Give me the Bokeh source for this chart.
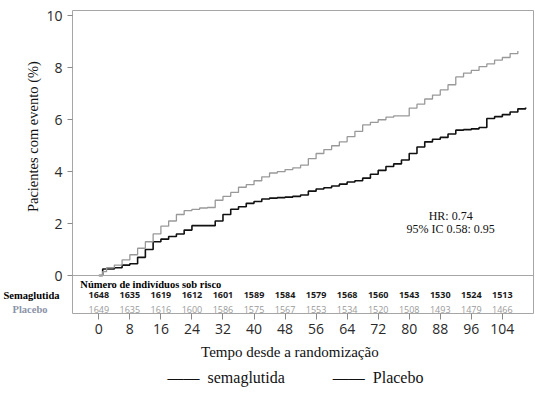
from bokeh.plotting import figure
from bokeh.models import (Range1d, FixedTicker, Span, LinearAxis, ColumnDataSource, Title)
from bokeh.core.properties import value
from bokeh.embed import file_html
from bokeh.resources import INLINE

# ---- data ----
weeks_placebo = [0, 1, 2, 4, 6, 8, 10, 12, 14, 16, 18, 20, 22, 24, 26, 28, 30, 32, 34, 36,
                 38, 40, 42, 44, 46, 48, 50, 52, 54, 56, 58, 60, 62, 64, 66, 68, 70, 72,
                 74, 76, 78, 80, 82, 84, 86, 88, 90, 92, 94, 96, 98, 100, 102, 104, 106, 108]
pct_placebo = [0, 0.15, 0.3, 0.4, 0.6, 0.8, 1.05, 1.3, 1.6, 1.9, 2.1, 2.35, 2.5, 2.55, 2.6,
               2.62, 2.9, 3.05, 3.2, 3.4, 3.5, 3.65, 3.8, 3.95, 4.0, 4.08, 4.15, 4.25, 4.5,
               4.7, 4.85, 5.0, 5.15, 5.35, 5.55, 5.8, 5.9, 6.0, 6.1, 6.15, 6.15, 6.45, 6.6,
               6.8, 6.95, 7.15, 7.35, 7.65, 7.8, 7.9, 8.05, 8.15, 8.3, 8.4, 8.55, 8.65]

weeks_sema = [0, 1, 4, 6, 8, 10, 12, 14, 16, 18, 20, 22, 24, 26, 28, 30, 32, 34, 36, 38,
              40, 42, 44, 46, 48, 50, 52, 54, 56, 58, 60, 62, 64, 66, 68, 70, 72, 74, 76,
              78, 80, 82, 84, 86, 88, 90, 92, 94, 96, 98, 100, 102, 104, 106, 108, 110]
pct_sema = [0, 0.25, 0.3, 0.4, 0.45, 0.7, 1.0, 1.3, 1.4, 1.5, 1.6, 1.75, 1.92, 1.92, 1.92,
            2.1, 2.35, 2.55, 2.65, 2.78, 2.85, 2.95, 2.98, 3.0, 3.02, 3.05, 3.1, 3.25, 3.33,
            3.38, 3.45, 3.52, 3.6, 3.65, 3.75, 3.9, 4.05, 4.2, 4.3, 4.45, 4.7, 4.95, 5.15,
            5.25, 5.32, 5.45, 5.6, 5.62, 5.65, 5.7, 6.05, 6.12, 6.2, 6.3, 6.42, 6.47]

risk_weeks = [0, 8, 16, 24, 32, 40, 48, 56, 64, 72, 80, 88, 96, 104]
risk_sema = [1648, 1635, 1619, 1612, 1601, 1589, 1584, 1579, 1568, 1560, 1543, 1530, 1524, 1513]
risk_placebo = [1649, 1635, 1616, 1600, 1586, 1575, 1567, 1553, 1534, 1520, 1508, 1493, 1479, 1466]
y_ticks = [0, 2, 4, 6, 8, 10]
series_names = ["semaglutida", "Placebo"]

SERIF = "Liberation Serif"
SANS = "Open Sans"
NB = "\u00a0"

ROW_HEADER_Y = -0.347
ROW_SEMA_Y = -0.77
ROW_PLAC_Y = -1.31

p = figure(width=541, height=395, output_backend="svg", toolbar_location=None,
           x_range=Range1d(-6.78, 112.03), y_range=Range1d(-1.464, 10.21),
           min_border_left=60, min_border_right=8, min_border_top=10, min_border_bottom=82)
p.background_fill_color = "white"
p.border_fill_color = "white"
p.outline_line_color = "#a6a6a6"
p.outline_line_width = 1
p.grid.visible = False

# main axes
p.xaxis.ticker = FixedTicker(ticks=risk_weeks)
p.yaxis.ticker = FixedTicker(ticks=y_ticks)
for ax in (p.xaxis[0], p.yaxis[0]):
    ax.axis_line_color = None
    ax.major_tick_line_color = "#8a8a8a"
    ax.major_tick_in = 0
    ax.major_tick_out = 6
    ax.minor_tick_line_color = None
    ax.major_label_text_font = SANS
    ax.major_label_text_font_size = "14px"
    ax.major_label_text_color = "#2a2a2a"
    ax.axis_label_text_font = SERIF
    ax.axis_label_text_font_style = "normal"
    ax.axis_label_text_color = "#111111"
p.xaxis.major_label_standoff = 4
p.xaxis.axis_label = "Tempo desde a randomização" + NB * 7
p.xaxis.axis_label_text_font_size = "15px"
p.xaxis.axis_label_standoff = 7
p.yaxis.major_tick_out = 5
p.yaxis.major_label_standoff = 5
p.yaxis.axis_label = NB * 14 + "Pacientes com evento (%)"
p.yaxis.axis_label_text_font_size = "14.5px"
p.yaxis.axis_label_standoff = 2

# zero line separating curves from the risk table
p.add_layout(Span(location=0, dimension="width", line_color="#a6a6a6", line_width=1))

# curves
p.step(weeks_sema, pct_sema, mode="after", line_color="#111111", line_width=1.6)
p.step(weeks_placebo, pct_placebo, mode="after", line_color="#999999", line_width=1.3)

# risk table
p.text(x=[-4.77], y=[ROW_HEADER_Y], text=["Número de indivíduos sob risco"],
       text_font=value(SERIF), text_font_style="bold", text_font_size="10.5px",
       text_align="left", text_baseline="middle", text_color="#000000")
src = ColumnDataSource(dict(x=risk_weeks, s=[str(v) for v in risk_sema],
                            pl=[str(v) for v in risk_placebo]))
p.text(x="x", y=ROW_SEMA_Y, text="s", source=src, text_font=value(SANS), text_font_style="bold",
       text_font_size="9px", text_align="center", text_baseline="middle", text_color="#1a1a1a")
p.text(x="x", y=ROW_PLAC_Y, text="pl", source=src, text_font=value(SANS),
       text_font_size="9px", text_align="center", text_baseline="middle", text_color="#9a9a9a")

# HR text
p.text(x=[90.68, 90.68], y=[2.31, 1.81], text=["HR: 0.74", "95% IC 0.58: 0.95"],
       text_font=value(SERIF), text_font_size="12px", text_align="center",
       text_baseline="middle", text_color="#111111")


def row_label_axis(tick, text, color, standoff):
    ax = LinearAxis(ticker=FixedTicker(ticks=[tick]), major_label_overrides={tick: text})
    ax.axis_line_color = None
    ax.major_tick_line_color = None
    ax.minor_tick_line_color = None
    ax.major_tick_in = 0
    ax.major_tick_out = 0
    ax.major_label_standoff = standoff
    ax.major_label_text_font = SERIF
    ax.major_label_text_font_style = "bold"
    ax.major_label_text_font_size = "10.5px"
    ax.major_label_text_color = color
    p.add_layout(ax, "left")


# row labels of the risk table, left of the frame (each axis keeps a positive width)
row_label_axis(ROW_PLAC_Y, "Placebo", "#8b93a8", -25)
row_label_axis(ROW_SEMA_Y, "Semaglutida", "#000000", -50)

# key below the chart
key_text = ("——" + NB * 2 + series_names[0] + NB * 12 + "——" + NB * 2 + series_names[1])
p.add_layout(Title(text=key_text, align="left", offset=95, standoff=8,
                   text_font=SERIF, text_font_size="16px", text_font_style="normal",
                   text_color="#111111"), "below")

open("out.html", "w").write(file_html(p, INLINE))
